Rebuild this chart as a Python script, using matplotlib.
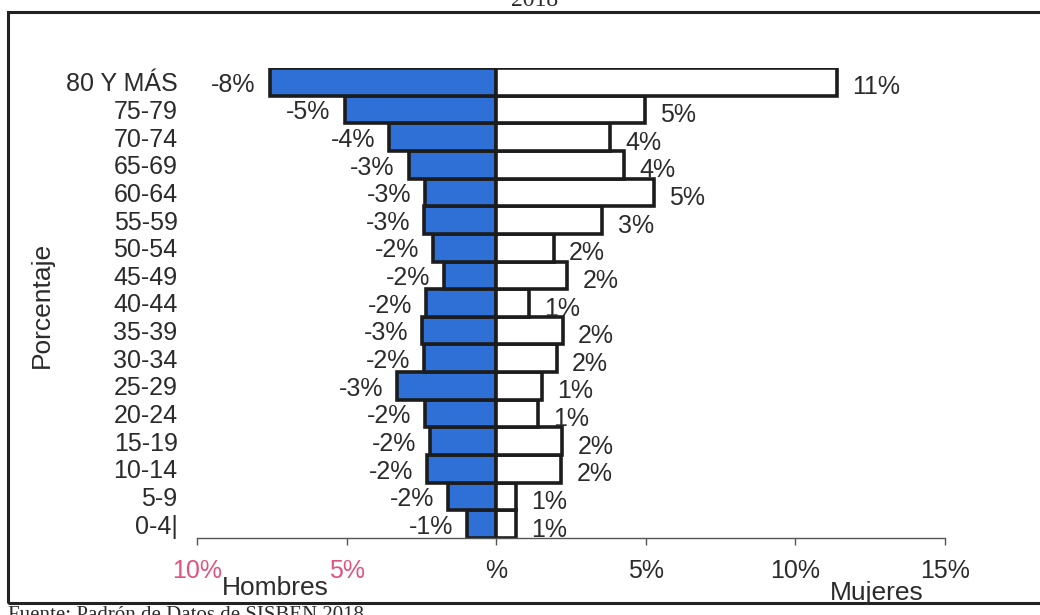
import numpy as np
import matplotlib.pyplot as plt
from matplotlib.patches import Rectangle

# Age groups, from youngest to oldest
grupos = ['0-4|', '5-9', '10-14', '15-19', '20-24', '25-29', '30-34', '35-39',
          '40-44', '45-49', '50-54', '55-59', '60-64', '65-69', '70-74', '75-79',
          '80 Y MÁS']

# Percent of population by sex (men drawn to the left)
hombres = [-0.97, -1.6, -2.3, -2.2, -2.37, -3.3, -2.4, -2.47,
           -2.33, -1.73, -2.1, -2.4, -2.37, -2.93, -3.57, -5.07, -7.57]
mujeres = [0.67, 0.67, 2.17, 2.2, 1.4, 1.53, 2.03, 2.23,
           1.1, 2.37, 1.93, 3.55, 5.27, 4.27, 3.8, 4.97, 11.4]

# Labels printed next to each bar
etiq_h = ['-1%', '-2%', '-2%', '-2%', '-2%', '-3%', '-2%', '-3%',
          '-2%', '-2%', '-2%', '-3%', '-3%', '-3%', '-4%', '-5%', '-8%']
etiq_m = ['1%', '1%', '2%', '2%', '1%', '1%', '2%', '2%',
          '1%', '2%', '2%', '3%', '5%', '4%', '4%', '5%', '11%']

xticks = [-10, -5, 0, 5, 10, 15]
xtick_labels = ['10%', '5%', '%', '5%', '10%', '15%']

plt.rcParams['font.family'] = ['Liberation Sans', 'DejaVu Sans']
texto = '#2b2b2b'
azul = '#2f70d6'
borde = '#1c1c1c'

fig = plt.figure(figsize=(10.4, 6.15), dpi=100)
W, H = 1040, 615
ax = fig.add_axes([197 / W, (H - 538) / H, (945 - 197) / W, (538 - 68) / H])

y = np.arange(len(grupos))
ax.barh(y, hombres, height=1.0, color=azul, edgecolor=borde, linewidth=2.6, zorder=2)
ax.barh(y, mujeres, height=1.0, color='white', edgecolor=borde, linewidth=2.6, zorder=2)

for i in range(len(grupos)):
    ax.annotate(etiq_h[i], (hombres[i], y[i]), xytext=(-10, -2), textcoords='offset points',
                ha='right', va='center', fontsize=18, color=texto)
    ax.annotate(etiq_m[i], (mujeres[i], y[i]), xytext=(11, -4), textcoords='offset points',
                ha='left', va='center', fontsize=18, color=texto)

ax.set_xlim(-10, 15)
ax.set_ylim(-0.5, len(grupos) - 0.5)
ax.set_yticks(y)
ax.set_yticklabels(grupos, fontsize=18, color=texto)
ax.tick_params(axis='y', length=0, pad=14)
ax.set_xticks(xticks)
ax.set_xticklabels(xtick_labels, fontsize=18)
ax.tick_params(axis='x', length=5, width=1, color='#555555', pad=10)
for lab, v in zip(ax.get_xticklabels(), xticks):
    lab.set_color('#e0537c' if v < 0 else texto)

for s in ['top', 'right', 'left']:
    ax.spines[s].set_visible(False)
ax.spines['bottom'].set_color('#555555')
ax.spines['bottom'].set_linewidth(1)

fig.text(275 / W, 1 - 588 / H, 'Hombres', fontsize=19, color=texto, ha='center', va='center')
fig.text(877 / W, 1 - 593 / H, 'Mujeres', fontsize=19, color=texto, ha='center', va='center')
fig.text(42 / W, 1 - 305 / H, 'Porcentaje', fontsize=19, color=texto, rotation=90,
         ha='center', va='center')

# scanned page frame, title and source line (partly cut off in the scan)
fig.patches.append(Rectangle((8 / W, 1 - 603 / H), 1.1, (603 - 12) / H, transform=fig.transFigure,
                             fill=False, edgecolor='#222222', linewidth=2.2))
fig.text(535 / W, 1 - 1 / H, '2018', fontsize=17, color=texto, ha='center', va='center',
         family='Liberation Serif')
fig.text(8 / W, 1 - 606 / H, 'Fuente: Padrón de Datos de SISBEN 2018', fontsize=15, color=texto,
         ha='left', va='top', family='Liberation Serif')

fig.savefig('out.png', dpi=100, facecolor='white')
